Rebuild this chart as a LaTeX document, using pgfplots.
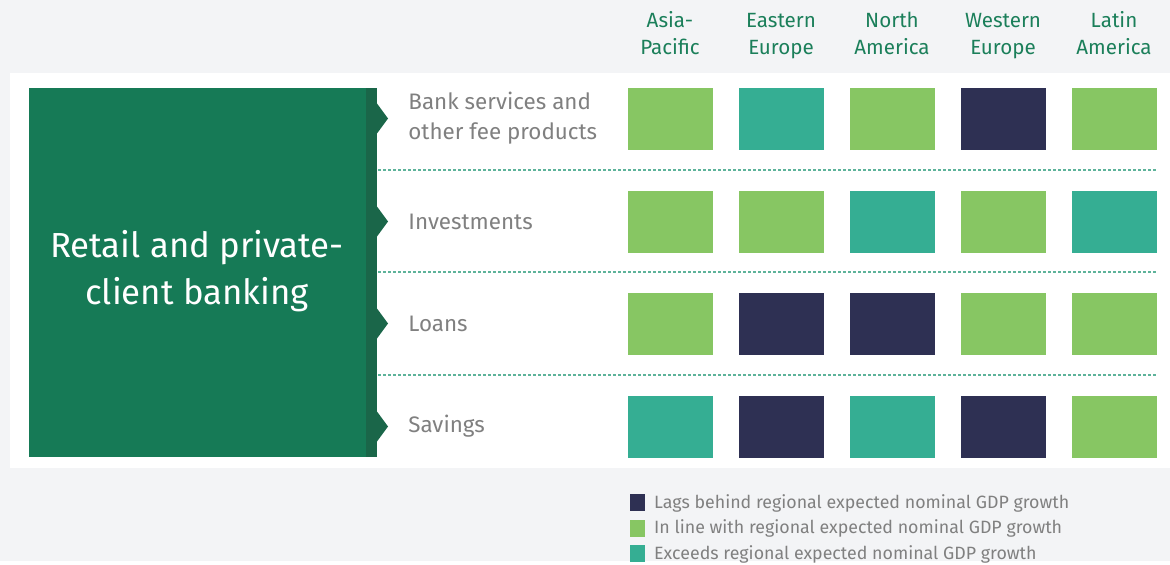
\documentclass[border=0pt]{standalone}
\usepackage{pgfplots}
\pgfplotsset{compat=1.18}
\usepackage{fontspec}
\setmainfont{Fira Sans}
\definecolor{bgGray}{HTML}{F3F4F6}
\definecolor{boxGreen}{HTML}{167A56}
\definecolor{stripeGreen}{HTML}{1A6649}
\definecolor{headGreen}{HTML}{1B7F5A}
\definecolor{txtGray}{HTML}{808080}
\definecolor{lagC}{HTML}{2E3053}
\definecolor{inlineC}{HTML}{87C663}
\definecolor{exceedC}{HTML}{35AE93}
\definecolor{dotC}{HTML}{5DB39A}

\begin{document}
\begin{tikzpicture}
\begin{axis}[
  width=585pt, height=280.5pt, scale only axis,
  xmin=0, xmax=1170, ymin=0, ymax=561, y dir=reverse,
  hide axis, clip=false,
  legend cell align=left,
  legend style={draw=none, fill=none, font=\fontsize{8.9}{10}\selectfont\color{txtGray},
    at={(axis cs:630,492)}, anchor=north west, inner sep=0pt,
    row sep=2.3pt, nodes={inner sep=1pt},
    /tikz/every odd column/.append style={column sep=3.5pt}},
  legend image code/.code={\fill[#1] (0pt,-4pt) rectangle (7pt,4pt);},
]
%--- backgrounds and decorations
\fill[bgGray] (axis cs:0,0) rectangle (axis cs:1170,561);
\fill[white] (axis cs:10,73) rectangle (axis cs:1170,468);
\fill[boxGreen] (axis cs:29,88) rectangle (axis cs:377,457);
\fill[stripeGreen] (axis cs:366,88) rectangle (axis cs:377,457);
\fill[stripeGreen] (axis cs:377,103.5) -- (axis cs:388,118.5) -- (axis cs:377,133.5) -- cycle;
\fill[stripeGreen] (axis cs:377,206.5) -- (axis cs:388,221.5) -- (axis cs:377,236.5) -- cycle;
\fill[stripeGreen] (axis cs:377,308.5) -- (axis cs:388,323.5) -- (axis cs:377,338.5) -- cycle;
\fill[stripeGreen] (axis cs:377,411.5) -- (axis cs:388,426.5) -- (axis cs:377,441.5) -- cycle;
\draw[dotC, line width=0.6pt, dash pattern=on 1.3pt off 1.2pt] (axis cs:378,170) -- (axis cs:1157,170);
\draw[dotC, line width=0.6pt, dash pattern=on 1.3pt off 1.2pt] (axis cs:378,272) -- (axis cs:1157,272);
\draw[dotC, line width=0.6pt, dash pattern=on 1.3pt off 1.2pt] (axis cs:378,375) -- (axis cs:1157,375);
\node[white, align=center, font=\fontsize{17.4}{23.5}\selectfont] at (axis cs:197,271)
  {Retail and private-\\client banking};

%--- column headers (two baselines)
\node[headGreen, anchor=base, font=\fontsize{10.3}{12}\selectfont] at (axis cs:670,28) {Asia-};
\node[headGreen, anchor=base, font=\fontsize{10.3}{12}\selectfont] at (axis cs:670,55) {Pacific};
\node[headGreen, anchor=base, font=\fontsize{10.3}{12}\selectfont] at (axis cs:781,28) {Eastern};
\node[headGreen, anchor=base, font=\fontsize{10.3}{12}\selectfont] at (axis cs:781,55) {Europe};
\node[headGreen, anchor=base, font=\fontsize{10.3}{12}\selectfont] at (axis cs:892,28) {North};
\node[headGreen, anchor=base, font=\fontsize{10.3}{12}\selectfont] at (axis cs:892,55) {America};
\node[headGreen, anchor=base, font=\fontsize{10.3}{12}\selectfont] at (axis cs:1003,28) {Western};
\node[headGreen, anchor=base, font=\fontsize{10.3}{12}\selectfont] at (axis cs:1003,55) {Europe};
\node[headGreen, anchor=base, font=\fontsize{10.3}{12}\selectfont] at (axis cs:1114,28) {Latin};
\node[headGreen, anchor=base, font=\fontsize{10.3}{12}\selectfont] at (axis cs:1114,55) {America};
%--- row labels
\node[txtGray, anchor=west, inner sep=0pt, align=left, font=\fontsize{11.2}{15}\selectfont] at (axis cs:408,118.5)
  {Bank services and\\other fee products};
\node[txtGray, anchor=west, inner sep=0pt, font=\fontsize{11.2}{15}\selectfont] at (axis cs:408,221.5) {Investments};
\node[txtGray, anchor=west, inner sep=0pt, font=\fontsize{11.2}{15}\selectfont] at (axis cs:408,323.5) {Loans};
\node[txtGray, anchor=west, inner sep=0pt, font=\fontsize{11.2}{15}\selectfont] at (axis cs:408,426.5) {Savings};

%--- cells (centres in picture units)
\addplot[color=lagC, only marks, mark=square*,
  mark options={draw=none, fill=lagC, xscale=1.377}, mark size=15.25pt]
  coordinates {(1003,118.5) (781,323.5) (892,323.5) (781,426.5) (1003,426.5)};
\addlegendentry{Lags behind regional expected nominal GDP growth}
\addplot[color=inlineC, only marks, mark=square*,
  mark options={draw=none, fill=inlineC, xscale=1.377}, mark size=15.25pt]
  coordinates {(670,118.5) (892,118.5) (1114,118.5)
               (670,221.5) (781,221.5) (1003,221.5)
               (670,323.5) (1003,323.5) (1114,323.5)
               (1114,426.5)};
\addlegendentry{In line with regional expected nominal GDP growth}
\addplot[color=exceedC, only marks, mark=square*,
  mark options={draw=none, fill=exceedC, xscale=1.377}, mark size=15.25pt]
  coordinates {(781,118.5) (892,221.5) (1114,221.5) (670,426.5) (892,426.5)};
\addlegendentry{Exceeds regional expected nominal GDP growth}
\end{axis}
\end{tikzpicture}
\end{document}
